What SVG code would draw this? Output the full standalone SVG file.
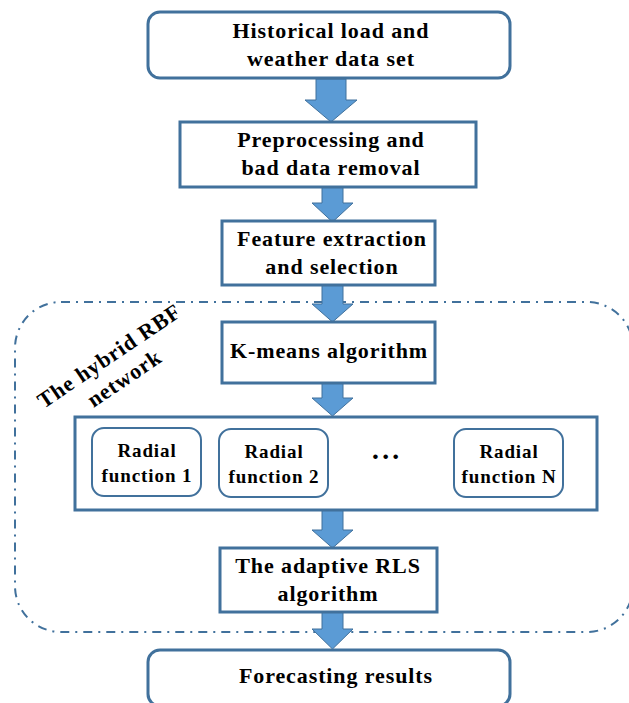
<svg xmlns="http://www.w3.org/2000/svg" width="629" height="703" viewBox="0 0 629 703">
<style>
.box{fill:#fff;stroke:#41719C;stroke-width:3}
.sbox{fill:#fff;stroke:#41719C;stroke-width:2}
.arr{fill:#5B9BD5;stroke:#41719C;stroke-width:1}
.t{font-family:"Liberation Serif","Times New Roman",serif;font-weight:bold;font-size:22px;letter-spacing:0.9px;fill:#000;text-anchor:middle}
.ts{font-family:"Liberation Serif","Times New Roman",serif;font-weight:bold;font-size:19px;letter-spacing:0.9px;fill:#000;text-anchor:middle}
.dash{fill:none;stroke:#41719C;stroke-width:2;stroke-dasharray:9 6 2 6}
</style>
<rect id="hybrid-region" class="dash" x="15" y="302" width="618" height="330" rx="46" ry="46"/>
<g id="label-hybrid" transform="translate(110,357) rotate(-34)">
<text class="t" x="0" y="6">The hybrid RBF</text>
<text class="t" x="0" y="33">network</text>
</g>
<g id="connectors">
<polygon class="arr" points="316,79 346,79 346,100 357,100 331,122 305,100 316,100"/>
<polygon class="arr" points="322,187 343,187 343,203 353,203 332.5,222 312,203 322,203"/>
<polygon class="arr" points="322,285 343,285 343,304 353,304 332.5,322 312,304 322,304"/>
<polygon class="arr" points="322,383 343,383 343,398 353,398 332.5,416 312,398 322,398"/>
<polygon class="arr" points="322,510 343,510 343,530 353,530 332.5,548 312,530 322,530"/>
<polygon class="arr" points="322,612 343,612 343,629 353,629 332.5,649 312,629 322,629"/>
</g>
<g id="node-historical">
<rect class="box" x="148" y="12" width="362" height="66" rx="12"/>
<text class="t" x="331" y="38">Historical load and</text>
<text class="t" x="331" y="66">weather data set</text>
</g>
<g id="node-preprocessing">
<rect class="box" x="180" y="122" width="296" height="65"/>
<text class="t" x="331" y="147">Preprocessing and</text>
<text class="t" x="331" y="175">bad data removal</text>
</g>
<g id="node-feature">
<rect class="box" x="222" y="221" width="213" height="64"/>
<text class="t" x="332" y="246">Feature extraction</text>
<text class="t" x="332" y="274">and selection</text>
</g>
<g id="node-kmeans">
<rect class="box" x="222" y="322" width="213" height="61"/>
<text class="t" x="329" y="358">K-means algorithm</text>
</g>
<g id="node-radial-layer">
<rect class="box" x="75" y="417" width="522" height="93"/>
<text class="t" x="386" y="466" style="font-size:28px">···</text>
</g>
<g id="node-radial-1">
<rect class="sbox" x="92" y="428" width="109" height="68" rx="12"/>
<text class="ts" x="147" y="457">Radial</text>
<text class="ts" x="147" y="482">function 1</text>
</g>
<g id="node-radial-2">
<rect class="sbox" x="219" y="429" width="109" height="68" rx="12"/>
<text class="ts" x="274" y="458">Radial</text>
<text class="ts" x="274" y="483">function 2</text>
</g>
<g id="node-radial-n">
<rect class="sbox" x="454" y="429" width="109" height="68" rx="12"/>
<text class="ts" x="509" y="458">Radial</text>
<text class="ts" x="509" y="483">function N</text>
</g>
<g id="node-rls">
<rect class="box" x="220" y="548" width="217" height="64"/>
<text class="t" x="328" y="573">The adaptive RLS</text>
<text class="t" x="328" y="601">algorithm</text>
</g>
<g id="node-forecasting">
<rect class="box" x="148" y="650" width="362" height="56" rx="12"/>
<text class="t" x="336" y="683">Forecasting results</text>
</g>
</svg>
